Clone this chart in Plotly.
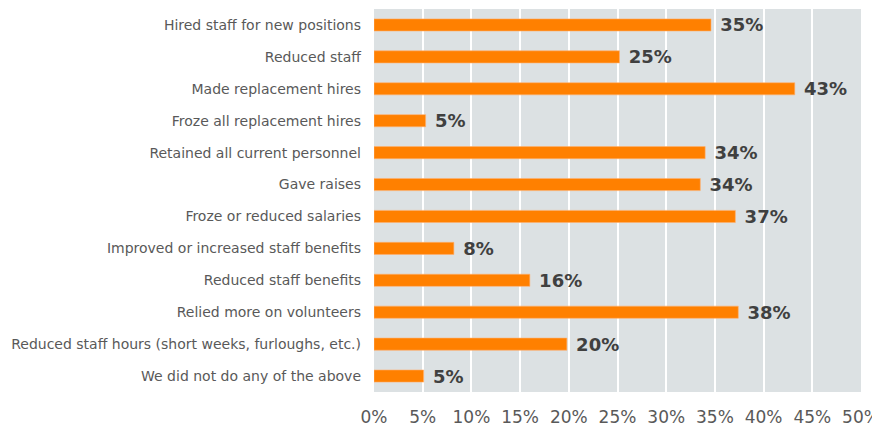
import plotly.graph_objects as go

categories = [
    "Hired staff for new positions",
    "Reduced staff",
    "Made replacement hires",
    "Froze all replacement hires",
    "Retained all current personnel",
    "Gave raises",
    "Froze or reduced salaries",
    "Improved or increased staff benefits",
    "Reduced staff benefits",
    "Relied more on volunteers",
    "Reduced staff hours (short weeks, furloughs, etc.)",
    "We did not do any of the above",
]
values = [34.6, 25.2, 43.2, 5.3, 34.0, 33.5, 37.1, 8.2, 16.0, 37.4, 19.8, 5.1]
labels = ["35%", "25%", "43%", "5%", "34%", "34%", "37%", "8%", "16%", "38%", "20%", "5%"]
tick_vals = [0, 5, 10, 15, 20, 25, 30, 35, 40, 45, 50]
tick_text = [f"{v}%" for v in tick_vals]

fig = go.Figure()
fig.add_bar(
    x=values, y=categories, orientation="h",
    marker=dict(color="#ff8000", line=dict(color="#ffb070", width=0.6)),
    text=[" " + t for t in labels], textposition="outside",
    textfont=dict(family="DejaVu Sans", size=18, color="#404040", weight="bold"),
    constraintext="none", cliponaxis=False, width=0.38,
)

# page body has an 8px margin, so the figure is sized to fill the rest
fig.update_layout(
    width=872, height=418,
    margin=dict(l=366, r=19, t=1, b=34),
    plot_bgcolor="#dce1e3", paper_bgcolor="white",
    showlegend=False,
    font=dict(family="DejaVu Sans", color="#595959"),
)
fig.update_xaxes(
    range=[0, 50], tickvals=tick_vals, ticktext=tick_text,
    showgrid=True, gridcolor="white", gridwidth=2,
    zeroline=False, tickfont=dict(size=17, color="#595959"),
    ticklabelstandoff=13, automargin=False, fixedrange=True,
)
fig.update_yaxes(
    autorange="reversed", showgrid=False,
    tickfont=dict(size=14, color="#595959"),
    ticklabelstandoff=12, automargin=False, fixedrange=True,
)

fig.write_html("out.html")
